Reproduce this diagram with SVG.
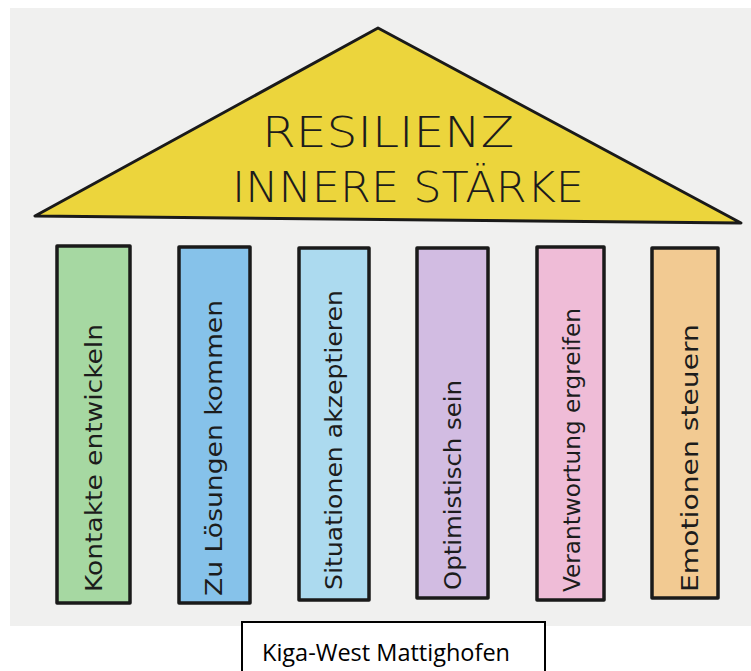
<svg xmlns="http://www.w3.org/2000/svg" width="751" height="671" viewBox="0 0 751 671">
<style>
.pillar{stroke:#1a1a1a;stroke-width:3.5;stroke-linejoin:round}
.plabel{font-family:"DejaVu Sans","Liberation Sans",sans-serif;font-size:23px;fill:#1c1c1c}
.roof-t{font-family:"DejaVu Sans","Liberation Sans",sans-serif;font-size:42px;fill:#1c1c1c;font-weight:300}
</style>
<rect x="0" y="0" width="751" height="671" fill="#ffffff"/>
<rect x="10" y="8" width="741" height="618" fill="#f0f0ef"/>
<g id="roof">
<polygon points="378,28 35,216 741,223" fill="#ecd53c" stroke="#1a1a1a" stroke-width="3" stroke-linejoin="round"/>
<text class="roof-t" x="262" y="147" textLength="252" lengthAdjust="spacingAndGlyphs">RESILIENZ</text>
<text class="roof-t" x="232" y="202" textLength="352" lengthAdjust="spacingAndGlyphs">INNERE STÄRKE</text>
</g>
<g id="p1">
<rect class="pillar" x="57" y="246" width="73" height="357" fill="#a6d8a2"/>
<text class="plabel" transform="translate(102,592) rotate(-90)" textLength="268" lengthAdjust="spacingAndGlyphs">Kontakte entwickeln</text>
</g>
<g id="p2">
<rect class="pillar" x="179" y="247" width="71" height="356" fill="#86c2ea"/>
<text class="plabel" transform="translate(222,596) rotate(-90)" textLength="296" lengthAdjust="spacingAndGlyphs">Zu Lösungen kommen</text>
</g>
<g id="p3">
<rect class="pillar" x="299" y="248" width="70" height="352" fill="#acdaef"/>
<text class="plabel" transform="translate(342,590) rotate(-90)" textLength="300" lengthAdjust="spacingAndGlyphs">Situationen akzeptieren</text>
</g>
<g id="p4">
<rect class="pillar" x="417" y="248" width="71" height="350" fill="#d2bce2"/>
<text class="plabel" transform="translate(461,590) rotate(-90)" textLength="210" lengthAdjust="spacingAndGlyphs">Optimistisch sein</text>
</g>
<g id="p5">
<rect class="pillar" x="537" y="247" width="67" height="353" fill="#efbcd7"/>
<text class="plabel" transform="translate(580,592) rotate(-90)" textLength="284" lengthAdjust="spacingAndGlyphs">Verantwortung ergreifen</text>
</g>
<g id="p6">
<rect class="pillar" x="652" y="248" width="66" height="350" fill="#f2ca92"/>
<text class="plabel" transform="translate(698,592) rotate(-90)" textLength="268" lengthAdjust="spacingAndGlyphs">Emotionen steuern</text>
</g>
<g id="caption">
<rect x="242" y="622" width="303" height="60" fill="#ffffff" stroke="#000" stroke-width="2"/>
<text x="386" y="661" text-anchor="middle" font-family="'Open Sans','Liberation Sans',sans-serif" font-size="24" fill="#000" textLength="248" lengthAdjust="spacingAndGlyphs">Kiga-West Mattighofen</text>
</g>
<g id="connectors"></g>
</svg>
